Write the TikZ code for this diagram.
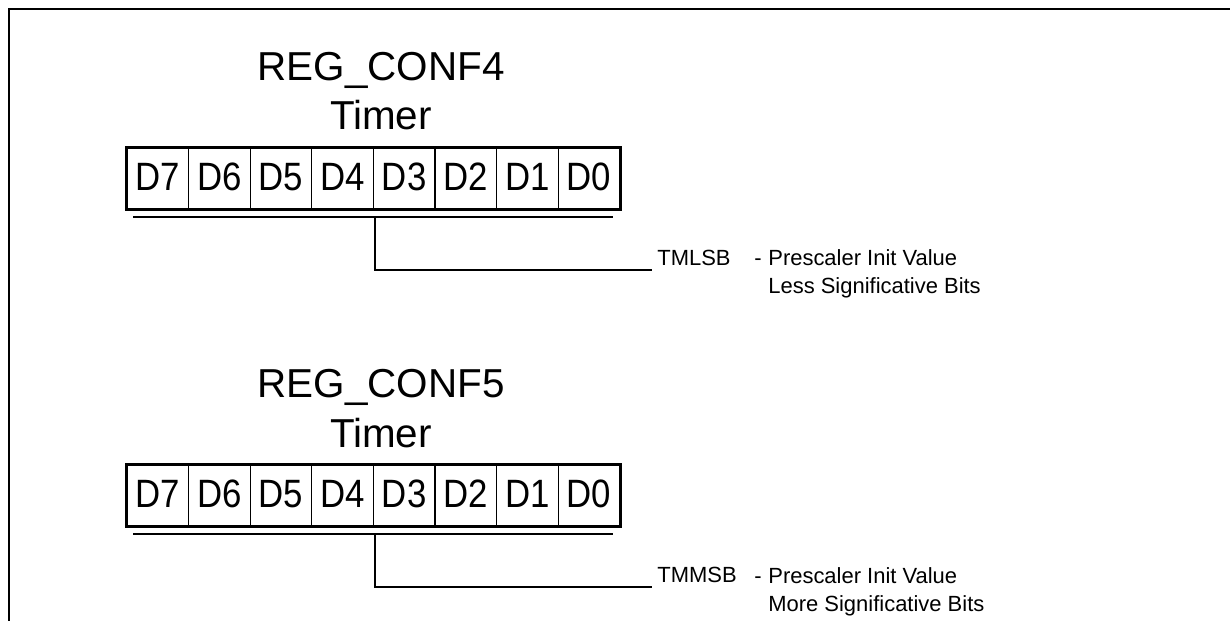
\documentclass[tikz,border=0pt]{standalone}
\usepackage{fontspec}
\setmainfont{Liberation Sans}
\newfontfamily\bitfont[FakeStretch=0.88]{Liberation Sans}

\begin{document}
\begin{tikzpicture}[x=0.02cm,y=-0.02cm,line join=miter,
		title/.style={anchor=base,inner sep=0pt,font=\fontsize{23}{27}\selectfont},
		bitcell/.style={draw,line width=0.6pt,minimum width=1.232cm,minimum height=1.22cm,inner sep=0pt,text height=16pt,text depth=2.6pt,font=\bitfont\fontsize{22.5}{27}\selectfont},
		note/.style={inner sep=0pt,font=\fontsize{12.5}{15}\selectfont},
		busline/.style={line width=1.1pt},
		tapline/.style={line width=0.8pt}]
	\useasboundingbox (0,0) rectangle (1230,621);
	
	% frame (only top and left edges visible)
	\draw[line width=1.7pt] (9,621) -- (9,9) -- (1230,9);
	
	\foreach \r/\dy/\reg/\half in {4/0/TMLSB/Less, 5/317/TMMSB/More}
	{
		\node[title] (head\r) at (381,81+\dy) {REG\_CONF\r};
		\node[title] (sub\r) at (381,130+\dy) {Timer};
		
		\foreach \b [count=\i from 0] in {7,...,0}
			\node[bitcell] (r\r d\b) at (157.8+61.6*\i,178.5+\dy) {D\b};
		\draw[line width=1.4pt] (r\r d7.north west) rectangle (r\r d0.south east);
		
		\coordinate (bw\r) at (133,217+\dy);
		\coordinate (be\r) at (613,217+\dy);
		\draw[busline] (bw\r) -- (be\r);
		\coordinate (tap\r) at ([xshift=0.04cm]r\r d3.south west |- bw\r);
		
		\node[note,anchor=south west,inner xsep=0.1cm,inner ysep=0.08cm] (name\r) at (652,270+\dy) {\reg};
		\draw[tapline] (tap\r) |- (name\r.south west);
		
		\node[note,anchor=base west] (dash\r) at (754,266+\dy) {-};
		\node[note,anchor=base west] (desc\r) at (768,266+\dy) {Prescaler Init Value};
		\node[note,anchor=base west] (bits\r) at (768,294+\dy) {\half\ Significative Bits};
	}
\end{tikzpicture}
\end{document}
